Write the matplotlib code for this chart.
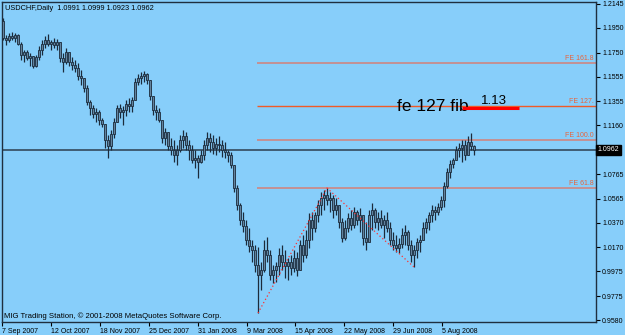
import matplotlib
matplotlib.use('Agg')
import matplotlib.pyplot as plt
import numpy as np
from matplotlib.transforms import blended_transform_factory

plt.rcParams['font.family'] = ['Liberation Sans', 'DejaVu Sans']

# ---------------- data (USDCHF daily) ----------------
symbol_title = "USDCHF,Daily  1.0991 1.0999 1.0923 1.0962"
copyright_txt = "MIG Trading Station, \u00a9 2001-2008 MetaQuotes Software Corp."

first_open = 1.2010

high = [
    1.2031, 1.1893, 1.1910, 1.1918, 1.1910, 1.1902, 1.1837, 1.1772, 1.1772, 1.1747,
    1.1707, 1.1731, 1.1804, 1.1853, 1.1885, 1.1902, 1.1853, 1.1869, 1.1861, 1.1837,
    1.1747, 1.1788, 1.1755, 1.1715, 1.1690, 1.1666, 1.1609, 1.1544, 1.1488, 1.1366,
    1.1325, 1.1301, 1.1285, 1.1220, 1.1106, 1.1082, 1.1122, 1.1220, 1.1325, 1.1333,
    1.1317, 1.1366, 1.1382, 1.1390, 1.1544, 1.1577, 1.1593, 1.1601, 1.1585, 1.1528,
    1.1382, 1.1325, 1.1301, 1.1187, 1.1139, 1.1098, 1.1057, 1.1041, 1.1001, 1.1082,
    1.1122, 1.1106, 1.1041, 1.1001, 1.0960, 1.0919, 1.0960, 1.1041, 1.1106, 1.1098,
    1.1082, 1.1057, 1.1074, 1.1041, 1.1025, 1.0960, 1.0944, 1.0838, 1.0676, 1.0530,
    1.0457, 1.0392, 1.0327, 1.0229, 1.0189, 1.0172, 1.0051, 1.0229, 1.0254, 1.0148,
    1.0026, 1.0051, 1.0164, 1.0189, 1.0148, 1.0083, 1.0108, 1.0148, 1.0132, 1.0229,
    1.0270, 1.0311, 1.0449, 1.0457, 1.0457, 1.0554, 1.0619, 1.0635, 1.0651, 1.0619,
    1.0595, 1.0570, 1.0514, 1.0408, 1.0392, 1.0449, 1.0473, 1.0497, 1.0473, 1.0489,
    1.0408, 1.0376, 1.0473, 1.0530, 1.0489, 1.0457, 1.0473, 1.0432, 1.0457, 1.0376,
    1.0294, 1.0270, 1.0246, 1.0327, 1.0351, 1.0311, 1.0229, 1.0189, 1.0246, 1.0270,
    1.0376, 1.0408, 1.0457, 1.0514, 1.0505, 1.0530, 1.0587, 1.0700, 1.0814, 1.0879,
    1.0895, 1.0992, 1.1017, 1.1041, 1.1041, 1.1074, 1.1098, 1.0999]

low = [
    1.1853, 1.1812, 1.1837, 1.1853, 1.1837, 1.1812, 1.1690, 1.1674, 1.1690, 1.1642,
    1.1626, 1.1634, 1.1690, 1.1731, 1.1788, 1.1804, 1.1772, 1.1788, 1.1772, 1.1674,
    1.1593, 1.1658, 1.1642, 1.1609, 1.1593, 1.1528, 1.1488, 1.1431, 1.1325, 1.1244,
    1.1220, 1.1187, 1.1163, 1.1147, 1.0976, 1.0895, 1.0960, 1.1057, 1.1187, 1.1220,
    1.1163, 1.1236, 1.1268, 1.1268, 1.1366, 1.1488, 1.1496, 1.1512, 1.1496, 1.1366,
    1.1244, 1.1203, 1.1187, 1.1017, 1.1001, 1.0960, 1.0919, 1.0863, 1.0838, 1.0944,
    1.0976, 1.0960, 1.0879, 1.0854, 1.0814, 1.0733, 1.0854, 1.0879, 1.0960, 1.0944,
    1.0928, 1.0919, 1.0944, 1.0903, 1.0895, 1.0863, 1.0814, 1.0619, 1.0473, 1.0351,
    1.0294, 1.0189, 1.0132, 1.0051, 0.9970, 0.9637, 0.9824, 0.9970, 1.0051, 0.9905,
    0.9881, 0.9889, 0.9945, 0.9986, 0.9921, 0.9905, 0.9945, 0.9970, 0.9937, 1.0002,
    1.0051, 1.0083, 1.0164, 1.0229, 1.0294, 1.0376, 1.0432, 1.0473, 1.0514, 1.0457,
    1.0408, 1.0432, 1.0327, 1.0213, 1.0229, 1.0294, 1.0311, 1.0327, 1.0351, 1.0294,
    1.0189, 1.0148, 1.0262, 1.0311, 1.0327, 1.0311, 1.0327, 1.0246, 1.0294, 1.0189,
    1.0148, 1.0132, 1.0124, 1.0164, 1.0189, 1.0148, 1.0051, 1.0010, 1.0083, 1.0132,
    1.0229, 1.0286, 1.0311, 1.0376, 1.0392, 1.0432, 1.0473, 1.0497, 1.0651, 1.0733,
    1.0814, 1.0879, 1.0903, 1.0863, 1.0879, 1.0944, 1.0960, 1.0923]

close = [
    1.1869, 1.1853, 1.1885, 1.1869, 1.1893, 1.1820, 1.1731, 1.1755, 1.1707, 1.1723,
    1.1642, 1.1715, 1.1772, 1.1820, 1.1853, 1.1820, 1.1837, 1.1812, 1.1837, 1.1707,
    1.1674, 1.1755, 1.1674, 1.1650, 1.1626, 1.1561, 1.1544, 1.1463, 1.1350, 1.1301,
    1.1252, 1.1268, 1.1203, 1.1171, 1.1041, 1.0992, 1.1090, 1.1187, 1.1301, 1.1268,
    1.1285, 1.1333, 1.1317, 1.1366, 1.1512, 1.1544, 1.1561, 1.1577, 1.1528, 1.1398,
    1.1285, 1.1268, 1.1203, 1.1057, 1.1106, 1.0992, 1.0960, 1.0919, 1.0960, 1.1041,
    1.1074, 1.1001, 1.0960, 1.0879, 1.0895, 1.0863, 1.0919, 1.1001, 1.1057, 1.1025,
    1.0976, 1.1009, 1.1001, 1.0960, 1.0944, 1.0919, 1.0838, 1.0651, 1.0514, 1.0392,
    1.0343, 1.0229, 1.0181, 1.0148, 1.0026, 0.9945, 0.9986, 1.0148, 1.0108, 0.9945,
    0.9986, 1.0018, 1.0108, 1.0051, 1.0018, 1.0051, 1.0002, 1.0083, 0.9986, 1.0189,
    1.0108, 1.0229, 1.0392, 1.0327, 1.0432, 1.0514, 1.0570, 1.0595, 1.0554, 1.0570,
    1.0473, 1.0514, 1.0376, 1.0246, 1.0327, 1.0408, 1.0351, 1.0457, 1.0392, 1.0432,
    1.0246, 1.0213, 1.0432, 1.0473, 1.0376, 1.0408, 1.0351, 1.0392, 1.0327, 1.0229,
    1.0189, 1.0164, 1.0197, 1.0270, 1.0294, 1.0189, 1.0108, 1.0148, 1.0213, 1.0229,
    1.0327, 1.0376, 1.0432, 1.0473, 1.0457, 1.0497, 1.0554, 1.0668, 1.0781, 1.0846,
    1.0879, 1.0960, 1.0976, 1.1001, 1.0919, 1.1025, 1.0991, 1.0962]

date_labels = ['7 Sep 2007', '12 Oct 2007', '18 Nov 2007', '25 Dec 2007',
               '31 Jan 2008', '9 Mar 2008', '15 Apr 2008', '22 May 2008',
               '29 Jun 2008', '5 Aug 2008']

price_ticks = [1.2145, 1.1950, 1.1750, 1.1555, 1.1355, 1.1160,
               1.0765, 1.0565, 1.0370, 1.0170, 0.9975, 0.9775, 0.9580]

fib_names = ['FE 161.8', 'FE 127.', 'FE 100.0', 'FE 61.8']
fib_levels = [1.1668, 1.1314, 1.1043, 1.0651]

# swing points of the fibo expansion (bar indices)
idx_A, idx_B, idx_C = 85, 108, 137

note_text = 'fe 127 fib'
target_text = '1.13'

# ---------------- styling ----------------
bg = '#87CEFA'
wick_col = '#1B2B3B'
body_col = '#62839E'

fig = plt.figure(figsize=(6.25, 3.35), dpi=100)
fig.patch.set_facecolor(bg)
ax = fig.add_axes([2 / 625, 13 / 335, 594 / 625, 320 / 335])
ax.set_facecolor(bg)

n = len(close)
x = np.arange(n)
c = np.array(close)
o = np.concatenate([[first_open], c[:-1]])
h = np.array(high)
l = np.array(low)

bar_px = 3.0  # pixels per bar
ax.set_xlim(-1 / bar_px, (594 - 1) / bar_px)
ax.set_ylim(0.9564, 1.2161)

# current price line
ax.axhline(c[-1], color='#34495C', lw=1.2, zorder=2)

# fibo expansion levels
trans_r = blended_transform_factory(ax.transAxes, ax.transData)
x_start = idx_A - 0.4
fib_line_cols = ['#C88C8C', '#F05A28', '#C88C8C', '#C88C8C']
fib_lws = [1.3, 1.0, 1.3, 1.3]
for lvl, name, col, lw in zip(fib_levels, fib_names, fib_line_cols, fib_lws):
    ax.hlines(lvl, x_start, ax.get_xlim()[1], color=col, lw=lw, zorder=2)
    ax.annotate(name, xy=(1, lvl), xycoords=trans_r, xytext=(-1.5, 0.8),
                textcoords='offset points', ha='right', va='bottom',
                fontsize=5, color='#E8643C')

# candles
ax.vlines(x, np.minimum(l, np.minimum(o, c)), np.maximum(h, np.maximum(o, c)),
          color=wick_col, lw=0.9, zorder=3)
body_lo = np.minimum(o, c)
body_h = np.maximum(np.abs(c - o), 0.0004)
ax.bar(x, body_h, bottom=body_lo, width=0.7, color=body_col,
       edgecolor=wick_col, linewidth=0.6, zorder=4)

# dotted fibo expansion path
ax.plot([idx_A, idx_B, idx_C], [l[idx_A], h[idx_B], l[idx_C]],
        color='#FF3030', lw=0.9, ls=(0, (1, 2)), zorder=5)

# annotations
ax.text(131.3, 1.1279, note_text, fontsize=12.5, color='black',
        ha='left', va='baseline', zorder=6)
ax.text(163.8, 1.1333, target_text, fontsize=9.5, color='black',
        ha='center', va='baseline', zorder=6)
ax.plot([153, 172], [1.1298, 1.1298], color='#FF0000', lw=2.2,
        solid_capstyle='butt', zorder=6)

ax.text(0.005, 0.981, symbol_title, transform=ax.transAxes, fontsize=5.3,
        ha='left', va='center', color='black')
ax.text(0.0034, 0.019, copyright_txt, transform=ax.transAxes, fontsize=5.6,
        ha='left', va='center', color='black')

# axes
ax.yaxis.tick_right()
ax.set_yticks(price_ticks)
ax.set_yticklabels([f'{v:.4f}' for v in price_ticks])
ax.tick_params(axis='y', direction='out', length=3, width=0.8, colors='black',
               labelsize=5, pad=1.5)

tick_pos = np.arange(len(date_labels)) * 16.3 - 1 / bar_px
ax.set_xticks(tick_pos)
ax.set_xticklabels(date_labels)
ax.tick_params(axis='x', direction='out', length=3, width=0.8, colors='black',
               labelsize=5, pad=1)
for lab in ax.get_xticklabels():
    lab.set_ha('left')

for sp in ax.spines.values():
    sp.set_color('#1F2F3F')
    sp.set_linewidth(1.0)

ax.text(1.003, c[-1], f'{c[-1]:.4f}', transform=trans_r, ha='left', va='center',
        fontsize=5, color='white', zorder=7, clip_on=False,
        bbox=dict(boxstyle='square,pad=0.25', fc='black', ec='black'))

fig.savefig('out.png', dpi=100, facecolor=bg)
